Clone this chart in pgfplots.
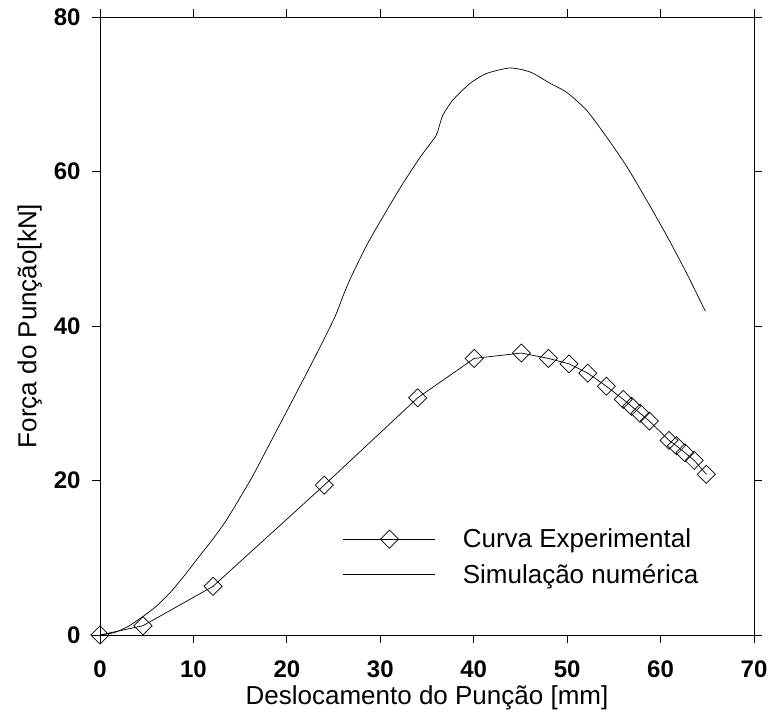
\documentclass[border=0pt]{standalone}
\usepackage{pgfplots}
\pgfplotsset{compat=1.18}
\usepackage{fontspec}
\setmainfont{Liberation Sans}
\begin{document}
\begin{tikzpicture}
\begin{axis}[
  name=ax,
  scale only axis,
  width=654pt, height=618pt,
  xmin=0, xmax=70, ymin=0, ymax=80,
  xtick={0,10,...,70}, ytick={0,20,...,80},
  tick align=outside,
  major tick length=8pt,
  tick style={black, line width=0.8pt},
  axis line style={line width=0.8pt},
  /pgf/number format/assume math mode=true,
  ticklabel style={font=\fontsize{24}{28}\selectfont\bfseries},
  xticklabel style={yshift=-14pt},
  yticklabel style={xshift=-8pt},
  label style={font=\fontsize{26}{30}\selectfont},
  xlabel={Deslocamento do Punção [mm]},
  ylabel={Força do Punção[kN]},
  xlabel style={yshift=-1pt},
  ylabel style={yshift=5pt},
  legend cell align=left,
  legend style={draw=none, fill=none, at={(axis cs:26,14.0)}, anchor=north west,
    font=\fontsize{26}{30}\selectfont, row sep=11pt, inner sep=0pt,
    /tikz/every odd column/.append style={column sep=25pt}},
  legend image code/.code={%
    \draw[#1, mark repeat=2, mark phase=2] plot coordinates {(0pt,0pt) (46pt,0pt) (92pt,0pt)};},
]
\addplot[black, line width=0.7pt, mark=square, mark size=6.4pt, mark options={rotate=45, solid, line width=0.7pt, fill=none}] coordinates {
(0,0) (4.6,1.2) (12.1,6.3) (24,19.4) (34,30.7) (40.05,35.8) (45.1,36.5) (48,35.8) (50.2,35.1) (52.2,33.9) (54.2,32.2) (56,30.5) (56.9,29.6) (57.8,28.7) (58.8,27.7) (60.9,25.2) (61.7,24.5) (62.6,23.6) (63.6,22.6) (64.9,20.8)
};
\addlegendentry{Curva Experimental}
\addplot[black, line width=0.7pt, mark=none, smooth, tension=0.4] coordinates {
(0,0) (1.5,0.3) (3,1.1) (4.6,2.4) (6.1,3.8) (7.6,5.6) (9.1,7.8) (10.7,10.3) (12.2,12.6) (13.6,15.0) (15,17.8) (16.4,20.7) (18.7,26.0) (21,31.3) (23.1,36.2) (25.15,41.2) (26.05,44.0) (26.9,46.4) (28.7,50.8) (31,55.6) (32.5,58.6) (34.3,61.9) (35.9,64.5) (36.2,65.4) (36.7,67.3) (37.8,69.3) (39.6,71.4) (41.4,72.7) (43.9,73.4) (46,72.9) (47.5,71.9) (48.2,71.4) (50,70.2) (52.1,67.9) (54.2,64.5) (56.4,60.6) (58.5,56.3) (60.7,51.6) (62.8,46.8) (64.8,41.9)
};
\addlegendentry{Simulação numérica}
\end{axis}
\pgfresetboundingbox
\path[use as bounding box] ([shift={(-100pt,-80pt)}]ax.south west) rectangle ([shift={(18pt,17pt)}]ax.north east);
\end{tikzpicture}
\end{document}
